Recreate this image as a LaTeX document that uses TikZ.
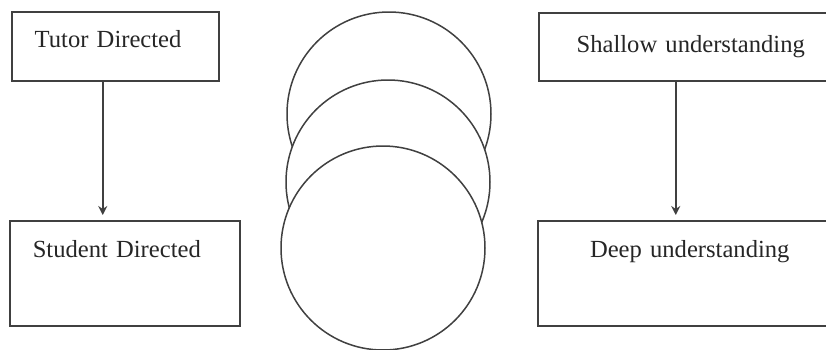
\documentclass[tikz,border=0pt]{standalone}
\usepackage{fontspec}
\setmainfont{Liberation Serif}
\usepackage{tikz}
\usetikzlibrary{arrows.meta, positioning}

\begin{document}
\begin{tikzpicture}[>=Stealth, x=0.5pt, y=-0.5pt]

% --- Style Definitions ---
% Boxes on the left (text set to the left)
\tikzstyle{left_box}=[rectangle, draw=black!75, line width=0.75pt, anchor=north west, inner xsep=11.5pt, inner ysep=0pt, align=left, font=\fontsize{12.3}{14}\selectfont, text=black!85]
% Boxes on the right (text centred)
\tikzstyle{right_box}=[rectangle, draw=black!75, line width=0.75pt, anchor=north west, inner xsep=6pt, inner ysep=0pt, text width=140pt, align=center, font=\fontsize{12.3}{14}\selectfont, text=black!85]
% Overlapping circles
\tikzstyle{ring}=[circle, draw=black!75, line width=0.75pt, fill=white, minimum size=102pt, inner sep=0pt]
% Arrows
\tikzstyle{flow_arrow}=[-{Stealth[length=4.5pt, width=4.5pt]}, draw=black!75, line width=0.75pt, shorten >=2.5pt]

\useasboundingbox (0,0) rectangle (826,349);

% --- Left column ---
\node[left_box, text width=80.5pt, text height=18pt, text depth=16.5pt] (TD) at (11,11) {Tutor Directed};
\node[left_box, text width=92pt, text height=18.5pt, text depth=34pt] (SD) at (9,220) {Student Directed};

% --- Circles (lowest one drawn last) ---
\node[ring] (C_top) at (389,114) {};
\node[ring] (C_mid) at (388,182) {};
\node[ring] (C_bot) at (383,248) {};

% --- Right column ---
\node[right_box, text height=20pt, text depth=14pt] (SU) at (538,12) {Shallow understanding};
\node[right_box, text height=18.5pt, text depth=34pt] (DU) at (537,220) {Deep understanding};

% --- Connections ---
\draw[flow_arrow] ([xshift=-6.25pt]TD.south) -- ([xshift=-6.25pt]TD.south |- SD.north);
\draw[flow_arrow] ([xshift=-7.5pt]SU.south) -- ([xshift=-7.5pt]SU.south |- DU.north);

\end{tikzpicture}
\end{document}
